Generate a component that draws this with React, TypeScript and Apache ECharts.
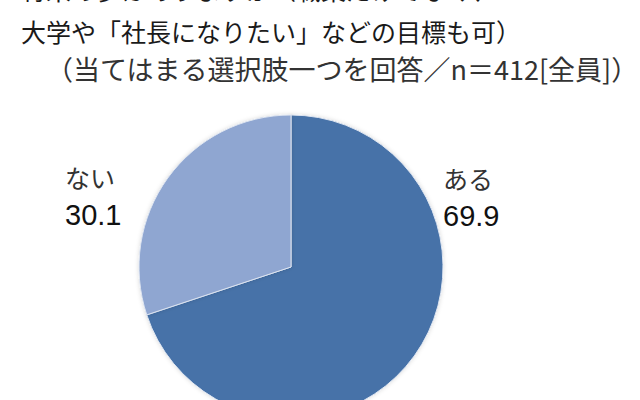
import * as React from "react";
import * as echarts from "echarts";

// 設問文(上端は切れている)
const titleLines = [
  "将来の夢はありますか（職業だけでなく、",
  "大学や「社長になりたい」などの目標も可）",
];
const titleY = [-11, 31];
const noteLine = "（当てはまる選択肢一つを回答／n＝412[全員]）";

const categories = ["ある", "ない"];
const values = [69.9, 30.1];
const colors = ["#4672a8", "#8fa6d1"];

export default function App() {
  const ref = React.useRef<HTMLDivElement | null>(null);

  React.useEffect(() => {
    if (!ref.current) return;
    const chart = echarts.init(ref.current, undefined, { renderer: "svg" });
    const jp = '"Noto Sans CJK JP", sans-serif';
    chart.setOption({
      animation: false,
      backgroundColor: "#ffffff",
      graphic: [
        ...titleLines.map((t, i) => ({
          type: "text",
          x: 21,
          y: titleY[i],
          style: {
            text: t,
            font: `25px ${jp}`,
            fill: "#1a1a1a",
            verticalAlign: "middle",
          },
        })),
        {
          type: "text",
          x: 46,
          y: 68,
          style: {
            text: noteLine,
            font: `27px ${jp}`,
            fill: "#333333",
            verticalAlign: "middle",
          },
        },
      ],
      series: [
        {
          type: "pie",
          center: [291, 267],
          radius: 152,
          startAngle: 90,
          clockwise: true,
          data: categories.map((c, i) => ({
            name: c,
            value: values[i],
            itemStyle: { color: colors[i] },
          })),
          itemStyle: {
            borderColor: "#dde4f0",
            borderWidth: 1,
            shadowBlur: 4,
            shadowColor: "rgba(0,0,0,0.15)",
          },
          label: {
            show: true,
            position: "outside",
            formatter: (p: { name: string; value: number }) =>
              `{n|${p.name}}\n{v|${p.value.toFixed(1)}}`,
            rich: {
              n: { fontFamily: jp, fontSize: 25, color: "#333333", lineHeight: 38 },
              v: {
                fontFamily: '"Liberation Sans", Arial, sans-serif',
                fontSize: 29,
                color: "#111111",
                lineHeight: 38,
              },
            },
          },
          labelLine: { show: false },
          labelLayout: (p: { dataIndex: number }) =>
            p.dataIndex === 0
              ? { x: 443, y: 159, align: "left", verticalAlign: "top" }
              : { x: 65, y: 158, align: "left", verticalAlign: "top" },
          emphasis: { disabled: true },
        },
      ],
    });
    return () => chart.dispose();
  }, []);

  return (
    <div
      ref={ref}
      style={{ position: "fixed", left: 0, top: 0, width: 640, height: 400 }}
    />
  );
}
